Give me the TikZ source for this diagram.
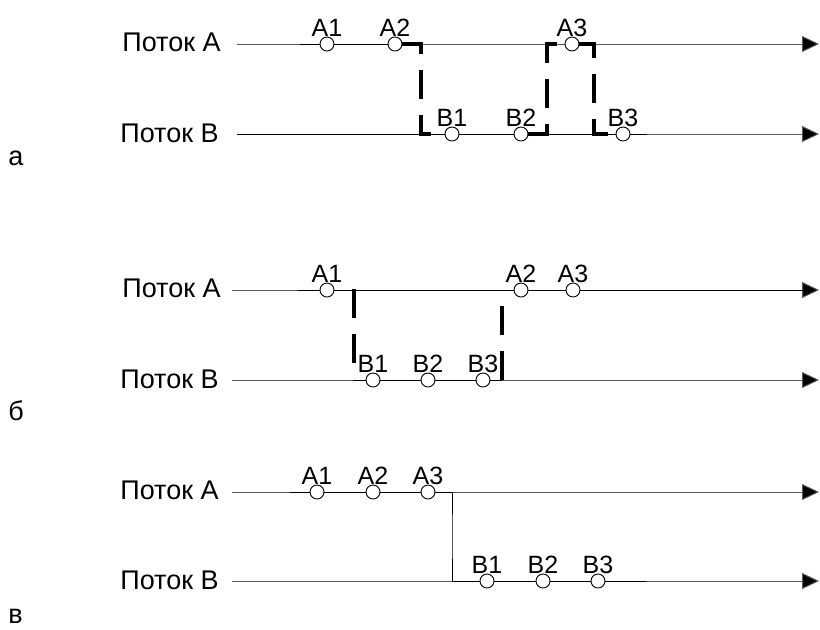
\documentclass[tikz,border=0pt]{standalone}
\usepackage{fontspec}
\setmainfont{Liberation Sans}
\usetikzlibrary{arrows.meta}

\tikzset{
	lbl/.style={font=\fontsize{13.5}{16}\selectfont, inner sep=0pt},
	evlbl/.style={font=\fontsize{12.5}{14}\selectfont, inner sep=0pt, text depth=0pt},
	flow/.style={draw=black!65, line width=0.5pt, -{Triangle[length=8.5pt,width=8pt,fill=black]}},
	busy/.style={draw=black, line width=0.5pt},
	ev/.style={circle, draw, fill=white, line width=0.45pt, minimum size=7pt, inner sep=0pt, label distance=3.5pt},
	switch/.style={line width=2pt, dash pattern=on 14.5pt off 8pt}
}

\begin{document}
\begin{tikzpicture}[x=0.5pt,y=-0.5pt]
	\useasboundingbox (0,0) rectangle (820,629);

	% а
	\node[lbl, anchor=base east] (aA) at (221,51) {Поток А};
	\node[lbl, anchor=base east] (aB) at (219,142) {Поток В};
	\node[lbl, anchor=base west] (pa) at (8,165) {а};
	\coordinate (aAs) at (237,44);  \coordinate (aAe) at (819,44);
	\coordinate (aBs) at (237,134); \coordinate (aBe) at (819,134);
	\draw[flow] (aAs) -- (aAe);
	\draw[flow] (aBs) -- (aBe);
	\draw[busy] (300,44) -- (421,44);
	\draw[busy] (237,134) -- (647,134);
	\foreach \n/\x in {1/327,2/395,3/572}
		\node[ev, label={[evlbl]above:А\n}] (aA\n) at (\x,44) {};
	\foreach \n/\x in {1/452,2/521,3/623}
		\node[ev, label={[evlbl]above:В\n}] (aB\n) at (\x,134) {};
	\coordinate (asw1) at (421,90);
	\coordinate (asw2) at (547,90);
	\coordinate (asw3) at (594,90);
	\draw[switch] (aA2.east) -| (asw1) |- (aB1.west);
	\draw[switch] (aB2.east) -| (asw2) |- (aA3.west);
	\draw[switch] (aA3.east) -| (asw3) |- (aB3.west);

	% б
	\node[lbl, anchor=base east] (bA) at (221,297) {Поток А};
	\node[lbl, anchor=base east] (bB) at (219,388) {Поток В};
	\node[lbl, anchor=base west] (pb) at (8,420) {б};
	\coordinate (bAs) at (232,290); \coordinate (bAe) at (819,290);
	\coordinate (bBs) at (232,380); \coordinate (bBe) at (819,380);
	\draw[flow] (bAs) -- (bAe);
	\draw[flow] (bBs) -- (bBe);
	\draw[busy] (298,290) -- (803,290);
	\draw[busy] (353,380) -- (502,380);
	\foreach \n/\x in {1/327,2/521,3/573}
		\node[ev, label={[evlbl]above:А\n}] (bA\n) at (\x,290) {};
	\foreach \n/\x in {1/373,2/428,3/483}
		\node[ev, label={[evlbl]above:В\n}] (bB\n) at (\x,380) {};
	\coordinate (bsw1t) at (354,289); \coordinate (bsw1b) at (354,363);
	\coordinate (bsw2t) at (502,306); \coordinate (bsw2b) at (502,382);
	\draw[switch] (bsw1t) -- (bsw1b);
	\draw[switch] (bsw2t) -- (bsw2b);

	% в
	\node[lbl, anchor=base east] (cA) at (219,499) {Поток А};
	\node[lbl, anchor=base east] (cB) at (219,589) {Поток В};
	\node[lbl, anchor=base west] (pc) at (8,623) {в};
	\coordinate (cAs) at (232,492); \coordinate (cAe) at (819,492);
	\coordinate (cBs) at (232,581); \coordinate (cBe) at (819,581);
	\draw[flow] (cAs) -- (cAe);
	\draw[flow] (cBs) -- (cBe);
	\coordinate (csw) at (452,536);
	\draw[busy] (290,492) -| (csw) |- (646,581);
	\foreach \n/\x in {1/317,2/373,3/428}
		\node[ev, label={[evlbl]above:А\n}] (cA\n) at (\x,492) {};
	\foreach \n/\x in {1/487,2/543,3/598}
		\node[ev, label={[evlbl]above:В\n}] (cB\n) at (\x,581) {};
\end{tikzpicture}
\end{document}
